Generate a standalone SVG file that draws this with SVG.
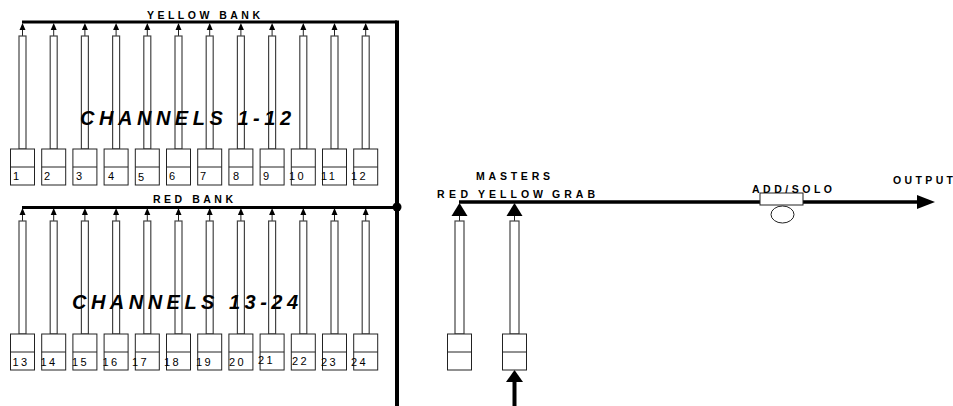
<svg xmlns="http://www.w3.org/2000/svg" xmlns:xlink="http://www.w3.org/1999/xlink" width="953" height="406" viewBox="0 0 953 406">
<style>
.bus{stroke:#000;stroke-width:3;fill:none}
.sl{fill:#fff;stroke:#444;stroke-width:1.2}
.bx{fill:#fff;stroke:#222;stroke-width:1}
.ln{stroke:#222;stroke-width:1}
.num{font-family:"Liberation Sans",Arial,sans-serif;font-size:11px;fill:#000;letter-spacing:2.5px}
.lbl{font-family:"Liberation Sans",Arial,sans-serif;font-size:10.5px;font-weight:bold;fill:#000}
.big{font-family:"Liberation Sans",Arial,sans-serif;font-size:20px;font-weight:bold;font-style:italic;fill:#000}
</style>
<defs>
<g id="fader">
<line x1="0" y1="29" x2="0" y2="36" class="ln"/>
<path d="M0 23 L3 30 L-3 30 Z" fill="#000"/>
<rect x="-3.5" y="36" width="7" height="113" class="sl"/>
<rect x="-12" y="149" width="24" height="36" class="bx"/>
<line x1="-12" y1="167" x2="12" y2="167" class="ln"/>
</g>
<g id="master">
<line x1="0" y1="215" x2="0" y2="221" class="ln"/>
<path d="M0 203 L8 216 L-8 216 Z" fill="#000"/>
<rect x="-4.5" y="221" width="9" height="113" class="sl"/>
<rect x="-12" y="334" width="24" height="36" class="bx"/>
<line x1="-12" y1="352" x2="12" y2="352" class="ln"/>
</g>
</defs>
<g id="connectors">
<line x1="22" y1="22" x2="397" y2="22" class="bus"/>
<line x1="397" y1="20.5" x2="397" y2="406" stroke="#000" stroke-width="4"/>
<line x1="22" y1="207.5" x2="397" y2="207.5" class="bus"/>
<circle cx="397" cy="207" r="4.5" fill="#000"/>
<line x1="459" y1="202" x2="918" y2="202" stroke="#000" stroke-width="3.5"/>
<path d="M917 195 L935 202 L917 209 Z" fill="#000"/>
<line x1="514.5" y1="381" x2="514.5" y2="406" stroke="#000" stroke-width="4"/>
<path d="M514.5 370 L523 382 L506 382 Z" fill="#000"/>
</g>
<g id="addsolo">
<rect x="760" y="193" width="43" height="12" class="bx"/>
<ellipse cx="782.5" cy="214.5" rx="11.5" ry="8.5" class="bx"/>
</g>
<g id="ch1"><use xlink:href="#fader" href="#fader" transform="translate(22.5,0)"/><text class="num" x="13" y="180">1</text></g>
<g id="ch2"><use xlink:href="#fader" href="#fader" transform="translate(53.7,0)"/><text class="num" x="44" y="180">2</text></g>
<g id="ch3"><use xlink:href="#fader" href="#fader" transform="translate(84.9,0)"/><text class="num" x="76" y="180">3</text></g>
<g id="ch4"><use xlink:href="#fader" href="#fader" transform="translate(116.1,0)"/><text class="num" x="108" y="180">4</text></g>
<g id="ch5"><use xlink:href="#fader" href="#fader" transform="translate(147.3,0)"/><text class="num" x="138" y="181">5</text></g>
<g id="ch6"><use xlink:href="#fader" href="#fader" transform="translate(178.5,0)"/><text class="num" x="169" y="180">6</text></g>
<g id="ch7"><use xlink:href="#fader" href="#fader" transform="translate(209.7,0)"/><text class="num" x="200" y="180">7</text></g>
<g id="ch8"><use xlink:href="#fader" href="#fader" transform="translate(240.9,0)"/><text class="num" x="233" y="180">8</text></g>
<g id="ch9"><use xlink:href="#fader" href="#fader" transform="translate(272.1,0)"/><text class="num" x="263" y="180">9</text></g>
<g id="ch10"><use xlink:href="#fader" href="#fader" transform="translate(303.3,0)"/><text class="num" x="289" y="180">10</text></g>
<g id="ch11"><use xlink:href="#fader" href="#fader" transform="translate(334.5,0)"/><text class="num" x="321" y="180">11</text></g>
<g id="ch12"><use xlink:href="#fader" href="#fader" transform="translate(365.7,0)"/><text class="num" x="351" y="180">12</text></g>
<g id="ch13"><use xlink:href="#fader" href="#fader" transform="translate(22.5,185)"/><text class="num" x="12.5" y="366">13</text></g>
<g id="ch14"><use xlink:href="#fader" href="#fader" transform="translate(53.7,185)"/><text class="num" x="40.5" y="366">14</text></g>
<g id="ch15"><use xlink:href="#fader" href="#fader" transform="translate(84.9,185)"/><text class="num" x="72" y="366">15</text></g>
<g id="ch16"><use xlink:href="#fader" href="#fader" transform="translate(116.1,185)"/><text class="num" x="102.5" y="366">16</text></g>
<g id="ch17"><use xlink:href="#fader" href="#fader" transform="translate(147.3,185)"/><text class="num" x="132" y="366">17</text></g>
<g id="ch18"><use xlink:href="#fader" href="#fader" transform="translate(178.5,185)"/><text class="num" x="164" y="366">18</text></g>
<g id="ch19"><use xlink:href="#fader" href="#fader" transform="translate(209.7,185)"/><text class="num" x="196" y="366">19</text></g>
<g id="ch20"><use xlink:href="#fader" href="#fader" transform="translate(240.9,185)"/><text class="num" x="229" y="366">20</text></g>
<g id="ch21"><use xlink:href="#fader" href="#fader" transform="translate(272.1,185)"/><text class="num" x="258" y="364">21</text></g>
<g id="ch22"><use xlink:href="#fader" href="#fader" transform="translate(303.3,185)"/><text class="num" x="292" y="365">22</text></g>
<g id="ch23"><use xlink:href="#fader" href="#fader" transform="translate(334.5,185)"/><text class="num" x="321" y="366">23</text></g>
<g id="ch24"><use xlink:href="#fader" href="#fader" transform="translate(365.7,185)"/><text class="num" x="351" y="366">24</text></g>
<g id="master-red"><use xlink:href="#master" href="#master" transform="translate(459.5,0)"/></g>
<g id="master-yellow"><use xlink:href="#master" href="#master" transform="translate(514.5,0)"/></g>
<g id="labels">
<text class="lbl" x="147" y="19" textLength="113" lengthAdjust="spacing">YELLOW BANK</text>
<text class="lbl" x="153" y="203" textLength="80" lengthAdjust="spacing">RED BANK</text>
<text class="big" x="80" y="125" textLength="211" lengthAdjust="spacing">CHANNELS 1-12</text>
<text class="big" x="72" y="309" textLength="226" lengthAdjust="spacing">CHANNELS 13-24</text>
<text class="lbl" x="476" y="180" textLength="74" lengthAdjust="spacing">MASTERS</text>
<text class="lbl" x="437" y="198" textLength="31" lengthAdjust="spacing">RED</text>
<text class="lbl" x="478" y="198" textLength="65" lengthAdjust="spacing">YELLOW</text>
<text class="lbl" x="552" y="198" textLength="43" lengthAdjust="spacing">GRAB</text>
<text class="lbl" x="752" y="193" textLength="80" lengthAdjust="spacing">ADD/SOLO</text>
<text class="lbl" x="893" y="184" textLength="60" lengthAdjust="spacing">OUTPUT</text>
</g>
</svg>
